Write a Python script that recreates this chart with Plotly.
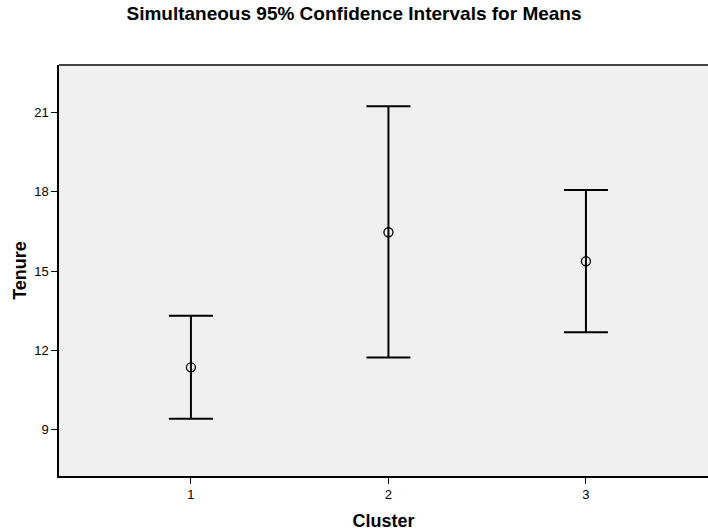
import plotly.graph_objects as go

clusters = [1, 2, 3]
means = [11.35, 16.47, 15.37]
upper = [13.30, 21.25, 18.07]
lower = [9.40, 11.72, 12.68]
y_ticks = [9, 12, 15, 18, 21]

err_plus = [u - m for u, m in zip(upper, means)]
err_minus = [m - l for m, l in zip(means, lower)]

W, H = 708, 532

fig = go.Figure()
fig.add_trace(go.Scatter(
    x=clusters, y=means, mode="markers",
    marker=dict(symbol="circle-open", size=9, color="black", line=dict(width=1.3, color="black")),
    error_y=dict(type="data", symmetric=False, array=err_plus, arrayminus=err_minus,
                 color="black", thickness=2, width=22),
    showlegend=False,
))

font = "Liberation Sans, Arial, sans-serif"
fig.update_layout(
    width=W, height=H,
    margin=dict(l=59, r=0, t=65, b=56, pad=0),
    paper_bgcolor="white", plot_bgcolor="#F0F0F0",
    title=dict(text="<b>Simultaneous 95% Confidence Intervals for Means</b>",
               x=0.5, xanchor="center", y=1 - 7 / H, yanchor="top",
               font=dict(family=font, size=19, color="black")),
    font=dict(family=font, color="black"),
)
fig.update_xaxes(
    range=[0.332, 3.618], tickvals=clusters, ticktext=[str(c) for c in clusters],
    showgrid=False, zeroline=False, showline=True, linecolor="black", linewidth=1.5,
    ticks="outside", ticklen=6, tickcolor="black", tickfont=dict(size=13, color="black"),
    title=dict(text="<b>Cluster</b>", font=dict(size=18, color="black"), standoff=13),
)
fig.update_yaxes(
    range=[7.23, 22.81], tickvals=y_ticks,
    showgrid=False, zeroline=False, showline=True, linecolor="black", linewidth=1.5,
    ticks="outside", ticklen=6, tickcolor="black", tickfont=dict(size=13, color="black"),
    title=dict(text="<b>Tenure</b>", font=dict(size=18, color="black"), standoff=3),
)
fig.add_shape(type="line", xref="paper", yref="paper", x0=0, x1=1, y0=1, y1=1,
              line=dict(color="#444444", width=2))
fig.write_html("out.html",
               config={"displayModeBar": False},
               post_script="document.body.style.margin='0';document.body.style.overflow='hidden';")
